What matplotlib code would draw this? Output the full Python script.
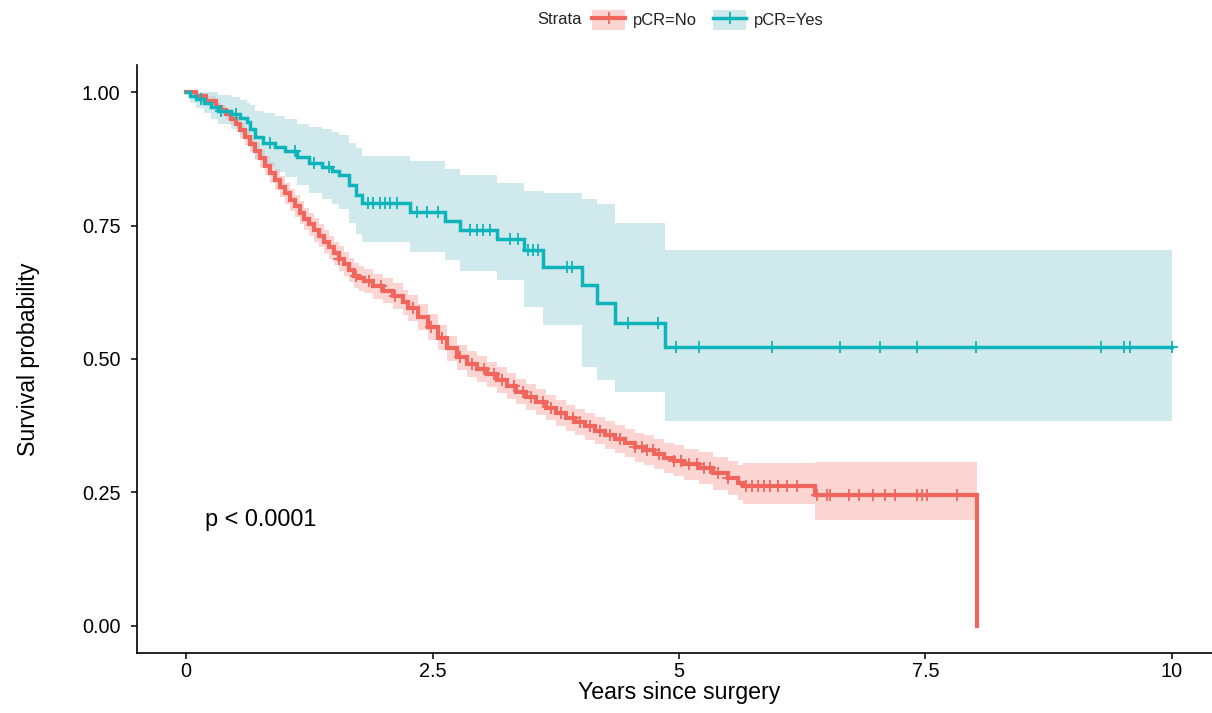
import numpy as np
import matplotlib
matplotlib.use("Agg")
from matplotlib import pyplot as plt
from matplotlib.patches import Patch
from matplotlib.lines import Line2D

plt.rcParams['font.family'] = ['Liberation Sans', 'DejaVu Sans']

# Kaplan-Meier estimates, pCR = No
no_time = [0.0, 0.1, 0.2, 0.3, 0.35, 0.4, 0.45, 0.5, 0.55, 0.6,
           0.65, 0.7, 0.75, 0.8, 0.85, 0.9, 0.95, 1.0, 1.05, 1.1,
           1.15, 1.2, 1.25, 1.3, 1.35, 1.4, 1.45, 1.5, 1.55, 1.6,
           1.65, 1.7, 1.75, 1.8, 1.9, 2.0, 2.1, 2.2, 2.25, 2.35,
           2.45, 2.55, 2.65, 2.75, 2.85, 2.95, 3.05, 3.15, 3.25, 3.35,
           3.45, 3.55, 3.65, 3.75, 3.85, 3.95, 4.05, 4.15, 4.25, 4.35,
           4.45, 4.55, 4.65, 4.75, 4.85, 4.95, 5.05, 5.2, 5.35, 5.5,
           5.6, 5.65, 6.38]
no_surv = [1.000, 0.992, 0.984, 0.972, 0.966, 0.958, 0.950, 0.940, 0.928, 0.915,
           0.903, 0.890, 0.876, 0.862, 0.849, 0.836, 0.823, 0.810, 0.798, 0.786,
           0.774, 0.762, 0.752, 0.742, 0.731, 0.720, 0.709, 0.698, 0.688, 0.678,
           0.667, 0.656, 0.651, 0.646, 0.636, 0.628, 0.618, 0.606, 0.596, 0.579,
           0.560, 0.540, 0.520, 0.503, 0.491, 0.481, 0.471, 0.461, 0.450, 0.439,
           0.429, 0.419, 0.409, 0.399, 0.390, 0.382, 0.374, 0.366, 0.358, 0.350,
           0.342, 0.335, 0.329, 0.322, 0.315, 0.309, 0.303, 0.296, 0.286, 0.277,
           0.268, 0.262, 0.245]
no_lower = [1.000, 0.986, 0.976, 0.963, 0.956, 0.947, 0.938, 0.927, 0.914, 0.900,
            0.887, 0.873, 0.858, 0.844, 0.830, 0.817, 0.803, 0.790, 0.777, 0.765,
            0.753, 0.741, 0.730, 0.720, 0.709, 0.698, 0.687, 0.676, 0.665, 0.655,
            0.644, 0.633, 0.628, 0.623, 0.613, 0.604, 0.594, 0.582, 0.572, 0.555,
            0.536, 0.516, 0.496, 0.479, 0.467, 0.457, 0.447, 0.437, 0.426, 0.415,
            0.405, 0.395, 0.385, 0.375, 0.366, 0.357, 0.349, 0.341, 0.332, 0.324,
            0.316, 0.308, 0.301, 0.294, 0.287, 0.280, 0.274, 0.266, 0.255, 0.245,
            0.235, 0.228, 0.198]
no_upper = [1.000, 0.998, 0.992, 0.981, 0.976, 0.969, 0.962, 0.953, 0.942, 0.930,
            0.919, 0.907, 0.894, 0.880, 0.868, 0.855, 0.843, 0.830, 0.819, 0.807,
            0.795, 0.783, 0.774, 0.764, 0.753, 0.742, 0.731, 0.720, 0.711, 0.701,
            0.690, 0.679, 0.674, 0.669, 0.659, 0.652, 0.642, 0.630, 0.620, 0.603,
            0.584, 0.564, 0.544, 0.527, 0.515, 0.505, 0.495, 0.485, 0.474, 0.463,
            0.453, 0.443, 0.433, 0.423, 0.414, 0.407, 0.399, 0.391, 0.384, 0.376,
            0.368, 0.362, 0.357, 0.350, 0.343, 0.338, 0.332, 0.326, 0.317, 0.309,
            0.301, 0.305, 0.307]
no_last_event = 8.02
no_censor = [1.55, 1.72, 1.85, 1.98, 2.12, 2.30, 2.48, 2.60, 2.78, 2.90,
             3.02, 3.12, 3.20, 3.33, 3.42, 3.50, 3.62, 3.70, 3.80, 3.92,
             4.00, 4.10, 4.20, 4.30, 4.40, 4.55, 4.62, 4.68, 4.74, 4.80,
             4.95, 5.02, 5.10, 5.18, 5.25, 5.32, 5.40, 5.50, 5.68, 5.74,
             5.80, 5.86, 5.92, 6.00, 6.10, 6.20, 6.40, 6.50, 6.53, 6.73,
             6.83, 6.97, 7.09, 7.19, 7.42, 7.47, 7.52, 7.82]

# Kaplan-Meier estimates, pCR = Yes
yes_time = [0.00, 0.04, 0.10, 0.18, 0.25, 0.32, 0.45, 0.55, 0.62, 0.65,
            0.70, 0.78, 0.90, 1.00, 1.12, 1.25, 1.38, 1.48, 1.55, 1.65,
            1.72, 1.78, 2.27, 2.63, 2.78, 3.15, 3.43, 3.62, 4.02, 4.17,
            4.35, 4.86]
yes_surv = [1.000, 0.993, 0.986, 0.979, 0.972, 0.965, 0.958, 0.951, 0.944, 0.930,
            0.916, 0.904, 0.897, 0.890, 0.878, 0.867, 0.860, 0.853, 0.845, 0.825,
            0.808, 0.792, 0.775, 0.758, 0.742, 0.725, 0.704, 0.672, 0.639, 0.605,
            0.567, 0.522]
yes_lower = [1.000, 0.980, 0.970, 0.960, 0.950, 0.940, 0.930, 0.920, 0.910, 0.895,
             0.875, 0.860, 0.850, 0.840, 0.825, 0.810, 0.800, 0.790, 0.780, 0.755,
             0.735, 0.720, 0.700, 0.685, 0.665, 0.648, 0.597, 0.564, 0.485, 0.460,
             0.438, 0.384]
yes_upper = [1.000, 1.000, 1.000, 1.000, 1.000, 0.995, 0.990, 0.985, 0.980, 0.975,
             0.965, 0.960, 0.955, 0.950, 0.940, 0.935, 0.930, 0.925, 0.920, 0.905,
             0.895, 0.880, 0.870, 0.855, 0.845, 0.830, 0.815, 0.810, 0.800, 0.790,
             0.755, 0.704]
yes_end = 10.0
yes_censor = [0.15, 0.35, 0.50, 0.85, 1.10, 1.30, 1.45, 1.84, 1.90, 1.97,
              2.02, 2.07, 2.14, 2.34, 2.44, 2.55, 2.88, 2.95, 3.01, 3.08,
              3.29, 3.37, 3.47, 3.52, 3.57, 3.86, 3.91, 4.48, 4.79, 4.97,
              5.20, 5.94, 6.63, 7.04, 7.42, 8.01, 9.28, 9.52, 9.58, 10.0]

strata_labels = ["pCR=No", "pCR=Yes"]
x_ticks = [0, 2.5, 5, 7.5, 10]
x_ticklabels = ["0", "2.5", "5", "7.5", "10"]
y_ticks = [0.0, 0.25, 0.5, 0.75, 1.0]
y_ticklabels = ["0.00", "0.25", "0.50", "0.75", "1.00"]
pval_text = "p < 0.0001"

RED = "#F2655C"
CYAN = "#0DB5BA"
RED_BAND = "#F8766D"
CYAN_BAND = "#a3d5da"


def step_value(times, values, t):
    idx = np.searchsorted(times, t, side='right') - 1
    return np.asarray(values)[idx]


def draw_km(ax, times, surv, lower, upper, t_end, censor, color, band_color,
            band_alpha, lw, drop_to_zero=False):
    t = np.append(times, t_end)
    s = np.append(surv, surv[-1])
    lo = np.append(lower, lower[-1])
    hi = np.append(upper, upper[-1])
    ax.fill_between(t, lo, hi, step='post', color=band_color, alpha=band_alpha,
                    linewidth=0)
    if drop_to_zero:
        t = np.append(t, t_end)
        s = np.append(s, 0.0)
    ax.plot(t, s, drawstyle='steps-post', color=color, lw=lw,
            solid_joinstyle='miter')
    cy = step_value(times, surv, np.asarray(censor))
    ax.plot(censor, cy, linestyle='none', marker='+', color=color,
            markersize=8, markeredgewidth=1.3)


fig = plt.figure(figsize=(12.12, 7.13), dpi=100)
ax = fig.add_axes([0.1130, 0.0846, 0.8944, 0.8238])

draw_km(ax, no_time, no_surv, no_lower, no_upper, no_last_event, no_censor,
        RED, RED_BAND, 0.3, 3.0, drop_to_zero=True)
draw_km(ax, yes_time, yes_surv, yes_lower, yes_upper, yes_end, yes_censor,
        CYAN, CYAN_BAND, 0.5, 2.5)

ax.set_xlim(-0.5, 10.5)
ax.set_ylim(-0.05, 1.05)
ax.set_xticks(x_ticks)
ax.set_xticklabels(x_ticklabels)
ax.set_yticks(y_ticks)
ax.set_yticklabels(y_ticklabels)
ax.tick_params(labelsize=14.3, length=4, width=1.1, colors='black')
ax.tick_params(axis='y', pad=8)
ax.tick_params(axis='x', pad=3)
for side in ['top', 'right']:
    ax.spines[side].set_visible(False)
for side in ['left', 'bottom']:
    ax.spines[side].set_linewidth(1.2)

ax.set_xlabel("Years since surgery", fontsize=16.7, labelpad=0)
ax.set_ylabel("Survival probability", fontsize=16.7, labelpad=30)

ax.text(0.19, 0.20, pval_text, fontsize=16.9, ha='left', va='center')

# legend on top
fig.text(537 / 1212, 1 - 20 / 713, "Strata", fontsize=11.9, va='center',
         ha='left', color='#222222')
handles = [
    (Patch(facecolor=RED_BAND, alpha=0.3, edgecolor='none'),
     Line2D([], [], color=RED, lw=3.0, marker='+', markersize=8,
            markeredgewidth=1.3)),
    (Patch(facecolor=CYAN_BAND, alpha=0.5, edgecolor='none'),
     Line2D([], [], color=CYAN, lw=2.5, marker='+', markersize=8,
            markeredgewidth=1.3)),
]
fig.legend(handles, strata_labels, loc='center left',
           bbox_to_anchor=(592 / 1212, 1 - 20 / 713), ncol=2, frameon=False,
           fontsize=11.9, handlelength=2.0, handleheight=1.4, handletextpad=0.45,
           columnspacing=1.0, borderpad=0, borderaxespad=0,
           labelcolor='#222222')

fig.savefig("out.png", dpi=100)
